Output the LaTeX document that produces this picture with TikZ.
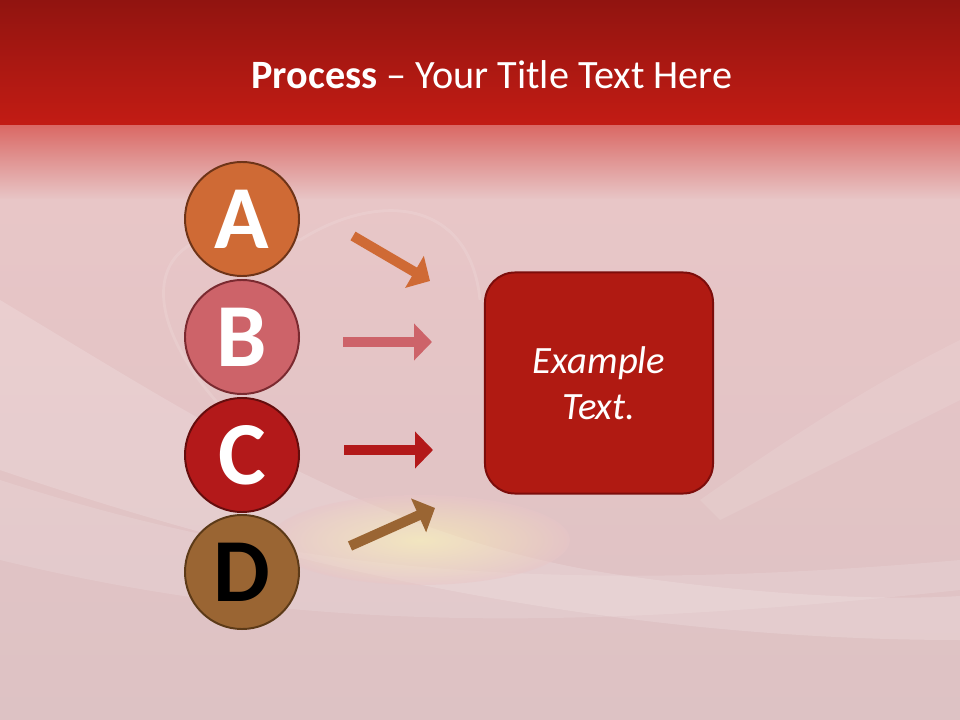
\documentclass[tikz,border=0pt]{standalone}
\usepackage{fontspec}
\setmainfont{Carlito}
\usetikzlibrary{arrows.meta,positioning}
\definecolor{bandtop}{HTML}{911410}
\definecolor{bandlow}{HTML}{C31C14}
\definecolor{fadetop}{HTML}{DA6A66}
\definecolor{pinkbg}{HTML}{E8C6C7}
\definecolor{pinklow}{HTML}{DDC2C4}
\definecolor{fillA}{HTML}{CF6A35}
\definecolor{fillB}{HTML}{CD6369}
\definecolor{fillC}{HTML}{B3191A}
\definecolor{fillD}{HTML}{9A6533}
\definecolor{lineA}{HTML}{6E3418}
\definecolor{lineB}{HTML}{7A2A30}
\definecolor{lineC}{HTML}{650D0D}
\definecolor{lineD}{HTML}{5C3A18}
\definecolor{boxfill}{HTML}{B01A12}
\definecolor{boxline}{HTML}{7C0D0B}
\begin{document}
\begin{tikzpicture}[x=0.025cm, y=-0.025cm]
			\tikzstyle{letter}  = [circle, minimum size=2.85cm, inner sep=0pt, line width=1.4pt, font=\fontsize{64}{64}\selectfont\bfseries]
			\tikzstyle{pointer} = [line width=0.25cm, -{Triangle[length=0.45cm, width=0.9cm]}]
			\tikzstyle{textbox} = [rectangle, rounded corners=0.75cm, minimum width=5.7cm, minimum height=5.525cm, fill=boxfill, draw=boxline, line width=1.4pt, text=white, align=center, font=\fontsize{27.5}{33}\selectfont\itshape]

			\useasboundingbox (0,0) rectangle (960,720);

			% background
			\shade[top color=bandtop, bottom color=bandlow] (0,0) rectangle (960,126);
			\shade[top color=fadetop, bottom color=pinkbg] (0,126) rectangle (960,200);
			\shade[top color=pinkbg, bottom color=pinklow] (0,200) rectangle (960,720);
			\fill[white, opacity=0.16] (0,300) .. controls (200,420) and (380,540) .. (620,575)
				.. controls (780,598) and (900,600) .. (960,596) -- (960,640)
				.. controls (700,640) and (380,600) .. (0,470) -- cycle;
			\fill[white, opacity=0.12] (0,480) .. controls (250,560) and (500,600) .. (960,560)
				-- (960,590) .. controls (500,640) and (250,620) .. (0,560) -- cycle;
			\fill[white, opacity=0.1] (700,500) .. controls (800,430) and (880,380) .. (960,340)
				-- (960,400) .. controls (880,440) and (800,480) .. (720,520) -- cycle;
			\shade[inner color=yellow!30!white, outer color=pinkbg, opacity=0.5] (420,540) ellipse (150 and 45);
			\draw[white, opacity=0.12, line width=2pt] (290,470) .. controls (110,330) and (130,200) .. (300,240)
				.. controls (380,190) and (470,200) .. (480,300);

			% title
			\node[text=white, font=\fontsize{28.6}{30}\selectfont] (title) at (492,75) {\textbf{Process} -- Your Title Text Here};

			% letters
			\foreach \name/\y/\col in {A/219/A, B/337/B, C/455/C}
				\node[letter, fill=fill\col, draw=line\col, text=white] (\name) at (242,\y) {\name};
			\node[letter, fill=fillD, draw=lineD, text=black] (D) at (242,572) {D};

			% arrows
			\foreach \name/\xa/\ya/\xb/\yb in {A/353/236/430/281, B/343/342/432/342, C/344/450/433/450, D/350/546/435/508} {
				\coordinate (\name s) at (\xa,\ya);
				\coordinate (\name e) at (\xb,\yb);
				\draw[pointer, fill\name] (\name s) -- (\name e);
			}

			% example box
			\node[textbox] (example) at (599,383) {Example\\Text.};

		\end{tikzpicture}
\end{document}
